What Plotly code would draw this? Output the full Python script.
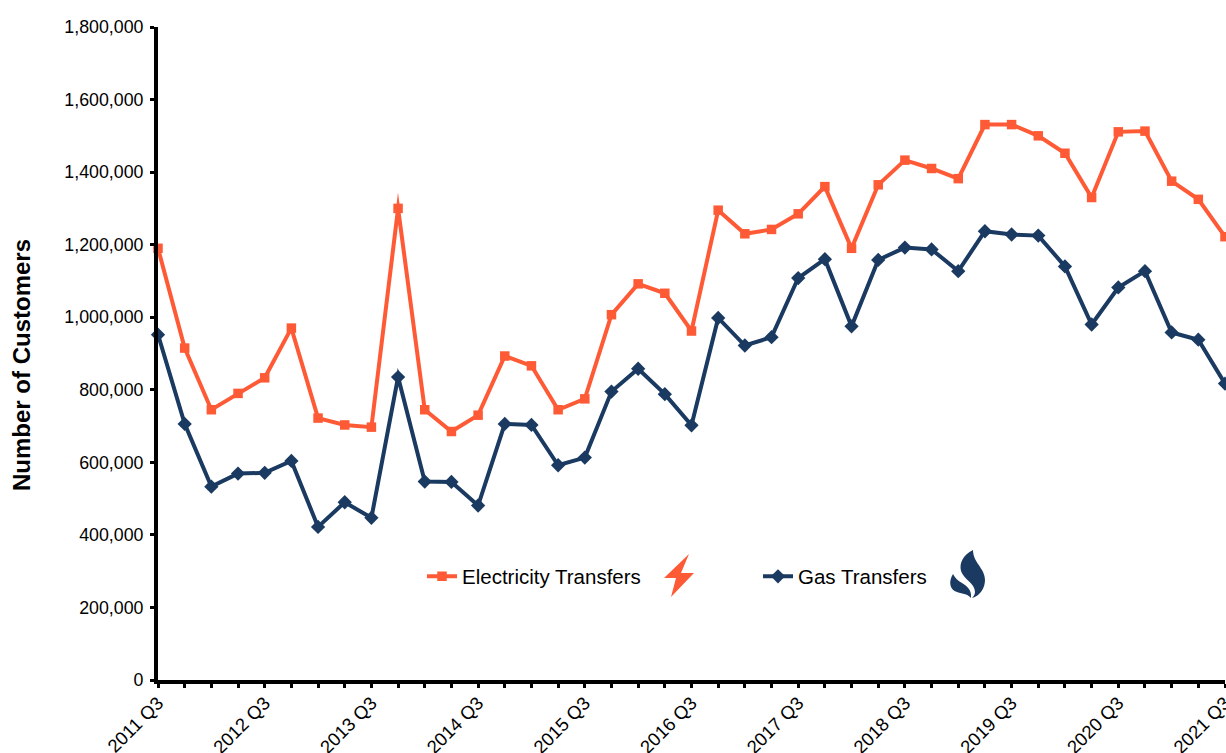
import plotly.graph_objects as go

W, H = 1226, 753
L, R, T, B = 158, 1225, 27, 680

quarters = []
for y in range(2011, 2022):
    for q in (3, 4, 1, 2):
        quarters.append(f"{y} Q{q}" if q >= 3 else f"{y+1} Q{q}")
quarters = quarters[:41]
tick_labels = [q if q.endswith("Q3") else "" for q in quarters]

electricity = [1190, 915, 745, 790, 833, 970, 722, 703, 697, 1300, 745, 685, 730, 893, 866, 745, 775, 1007, 1092, 1066, 962,
               1295, 1230, 1242, 1285, 1360, 1190, 1365, 1433, 1410, 1382, 1531, 1531, 1500, 1452, 1330, 1511, 1513, 1375, 1325, 1222]
gas = [952, 706, 533, 569, 571, 604, 422, 490, 447, 835, 547, 546, 481, 706, 703, 592, 613, 795, 858, 788, 702,
       998, 922, 945, 1108, 1160, 975, 1158, 1192, 1187, 1127, 1237, 1228, 1225, 1140, 980, 1082, 1127, 958, 938, 817]
electricity = [v * 1000 for v in electricity]
gas = [v * 1000 for v in gas]

ORANGE = "#FF5A36"
NAVY = "#1A3A61"
FONT = "Liberation Sans"


def fx(x):
    return (x - L) / (R - L)


def fy(y):
    return (B - y) / (B - T)


def pt(x, y):
    return f"{fx(x):.5f},{fy(y):.5f}"


def curve_path(start, segments):
    out = "M " + pt(*start)
    for a, b, c in segments:
        out += f" C {pt(*a)} {pt(*b)} {pt(*c)}"
    return out + " Z"


bolt = [(689, 554), (664, 578), (676, 578), (671, 597), (694, 573), (681, 573)]
bolt_path = "M " + " L ".join(pt(*p) for p in bolt) + " Z"
flame_path = (
    curve_path((973, 550), [((963, 555), (959, 563), (961, 571)),
                            ((964, 580), (975, 583), (975, 592)),
                            ((975, 595), (973, 597), (972, 598)),
                            ((980, 596), (985, 588), (985, 580)),
                            ((985, 568), (973, 563), (973, 550))])
    + " "
    + curve_path((953, 574), [((948, 582), (950, 590), (957, 592)),
                              ((963, 594), (968, 594), (971, 598)),
                              ((972, 590), (967, 586), (962, 583)),
                              ((958, 581), (955, 578), (953, 574))])
)

fig = go.Figure()
fig.add_trace(go.Scatter(x=quarters, y=electricity, name="Electricity Transfers", mode="lines+markers",
                         line=dict(color=ORANGE, width=4), marker=dict(symbol="square", size=9.5, color=ORANGE),
                         cliponaxis=False, legend="legend"))
fig.add_trace(go.Scatter(x=quarters, y=gas, name="Gas Transfers", mode="lines+markers",
                         line=dict(color=NAVY, width=4), marker=dict(symbol="diamond", size=11, color=NAVY),
                         cliponaxis=False, legend="legend2"))

legend_common = dict(bgcolor="rgba(0,0,0,0)", font=dict(family=FONT, size=20.5, color="#000"),
                     xanchor="left", yanchor="middle", itemwidth=30, visible=True)

fig.update_layout(
    width=W, height=H, autosize=False, showlegend=True,
    margin=dict(l=L, r=W - R, t=T, b=H - B, autoexpand=False),
    paper_bgcolor="white", plot_bgcolor="white",
    font=dict(family=FONT, size=17.8, color="#000"),
    legend=dict(x=fx(422), y=fy(576.5), **legend_common),
    legend2=dict(x=fx(758), y=fy(576.5), **legend_common),
    xaxis=dict(type="category", categoryorder="array", categoryarray=quarters, range=[0, 40],
               tickmode="array", tickvals=quarters, ticktext=tick_labels, tickangle=-45,
               ticks="outside", ticklen=4, tickwidth=3, tickcolor="#000", ticklabelstandoff=-3,
               showline=True, linecolor="#000", linewidth=4, showgrid=False, zeroline=False,
               tickfont=dict(size=18.5)),
    yaxis=dict(range=[0, 1800000], tick0=0, dtick=200000, tickformat=",d",
               ticks="outside", ticklen=4, tickwidth=3, tickcolor="#000", ticklabelstandoff=3,
               showline=True, linecolor="#000", linewidth=4, showgrid=False, zeroline=False,
               tickfont=dict(size=17.8)),
    annotations=[dict(text="<b>Number of Customers</b>", xref="paper", yref="paper", x=fx(21.5), y=fy(365.5),
                      xanchor="center", yanchor="middle", textangle=-90, showarrow=False,
                      font=dict(family=FONT, size=24, color="#000"))],
    shapes=[
        dict(type="path", xref="paper", yref="paper", path=bolt_path, fillcolor=ORANGE, line=dict(width=0)),
        dict(type="path", xref="paper", yref="paper", path=flame_path, fillcolor=NAVY, line=dict(width=0)),
    ],
)

post = """
document.body.style.margin = '0';
document.documentElement.style.overflow = 'hidden';
document.querySelectorAll('.scatterlayer .js-line').forEach(function (p) {
  p.style.strokeLinejoin = 'miter';
  p.style.strokeMiterlimit = '10';
});
"""
fig.write_html("out.html", post_script=post, config=dict(displayModeBar=False))
